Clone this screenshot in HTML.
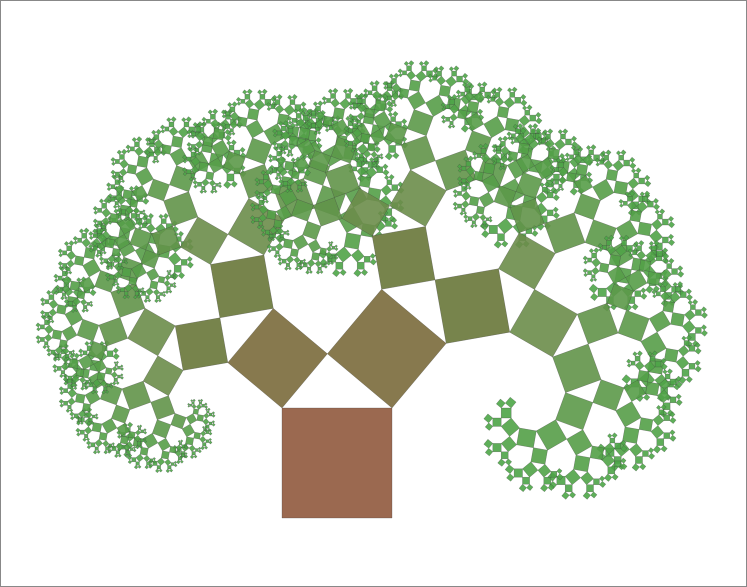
<!DOCTYPE html>
<html><head><meta charset="utf-8"><style>
html,body{margin:0;padding:0;background:#fff}
#wrap{position:relative;width:747px;height:587px;overflow:hidden}
svg{display:block}
</style></head><body>
<div id="wrap">
<svg id="svg" width="747" height="587" viewBox="0 0 747 587">
<rect x="0.5" y="0.5" width="746" height="586" fill="#fff" stroke="#888" stroke-width="1"/>
<g id="tree"></g>
</svg>
</div>
<script>
const baseSquare = [282, 518, 392, 518]; // base edge x0,y0,x1,y1
const angleDeg = [50];
const maxDepth = [10];
const colorTrunk = [155, 105, 80];
const colorLeaf = [70, 170, 70];

const g = document.getElementById('tree');
const a = angleDeg[0] * Math.PI / 180;
const ca = Math.cos(a), sa = Math.sin(a);
const items = [];
function build(x0, y0, x1, y1, d) {
  const vx = x1 - x0, vy = y1 - y0;
  const ux = vy, uy = -vx;
  const x3 = x0 + ux, y3 = y0 + uy, x2 = x1 + ux, y2 = y1 + uy;
  items.push([d, x0, y0, x1, y1, x2, y2, x3, y3]);
  if (d >= maxDepth[0]) return;
  const k = ca;
  const ax = x3 + k * (ca * vx + sa * ux), ay = y3 + k * (ca * vy + sa * uy);
  build(x3, y3, ax, ay, d + 1);
  build(ax, ay, x2, y2, d + 1);
}
build(baseSquare[0], baseSquare[1], baseSquare[2], baseSquare[3], 0);
let html = '';
items.forEach(it => {
  const d = it[0];
  const t = Math.min(1, 1 - Math.pow(0.78, d * 1.1));
  const c = colorTrunk.map((v, i) => Math.round(v + (colorLeaf[i] - v) * t));
  const op = d < 3 ? 1 : 0.9;
  const pts = it.slice(1).map(v => v.toFixed(1)).join(' ');
  html += `<polygon points="${pts}" fill="rgb(${c[0]},${c[1]},${c[2]})" fill-opacity="${op}" stroke="rgba(60,60,60,0.5)" stroke-width="0.5"/>`;
});
g.innerHTML = html;
</script>
</body></html>
